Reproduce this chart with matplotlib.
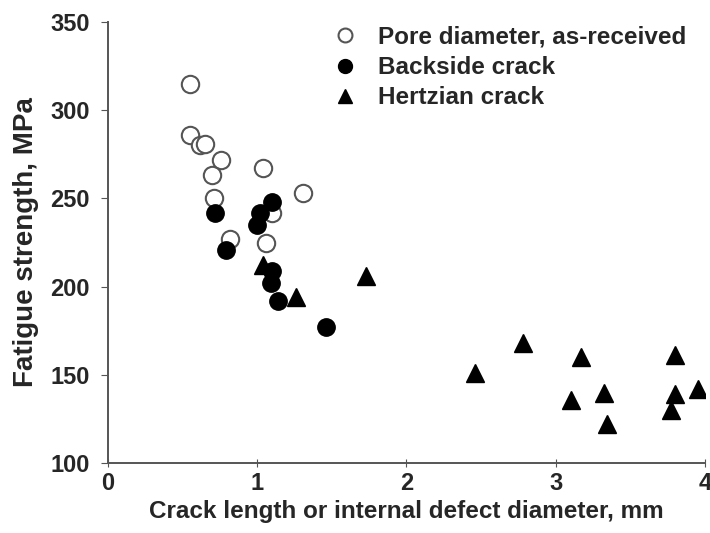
import matplotlib
matplotlib.use("Agg")
import matplotlib.pyplot as plt

plt.rcParams['font.family'] = ['Liberation Sans', 'DejaVu Sans']
plt.rcParams['font.weight'] = 'bold'
plt.rcParams['axes.labelweight'] = 'bold'

pore_x = [0.55, 0.55, 0.62, 0.65, 0.76, 0.70, 1.04, 0.71, 1.31, 1.10, 0.82, 1.06]
pore_y = [315, 286, 280, 281, 272, 263, 267, 250, 253, 242, 227, 225]

back_x = [0.72, 0.79, 1.10, 1.02, 1.00, 1.10, 1.09, 1.14, 1.46]
back_y = [242, 221, 248, 242, 235, 209, 202, 192, 177]

hertz_x = [1.04, 1.26, 1.73, 2.46, 2.78, 3.17, 3.10, 3.32, 3.34, 3.80, 3.80, 3.77, 3.95]
hertz_y = [212, 194, 206, 151, 168, 160, 136, 140, 122, 161, 139, 130, 142]

labels = ["Pore diameter, as-received", "Backside crack", "Hertzian crack"]
xticks = [0, 1, 2, 3, 4]
yticks = [100, 150, 200, 250, 300, 350]

fig = plt.figure(figsize=(7.1, 5.33), dpi=100)
ax = fig.add_axes([0.152, 0.131, 0.841, 0.828])

txt = '#262626'
ax.plot(pore_x, pore_y, 'o', ms=12.5, mfc='white', mec='#555555', mew=1.5,
        ls='none', label=labels[0], zorder=3)
ax.plot(back_x, back_y, 'o', ms=12.5, mfc='black', mec='black', mew=1,
        ls='none', label=labels[1], zorder=4)
ax.plot(hertz_x, hertz_y, '^', ms=12.5, mfc='black', mec='black', mew=1,
        ls='none', label=labels[2], zorder=4)

ax.set_xlim(0, 4)
ax.set_ylim(100, 350)
ax.set_xticks(xticks)
ax.set_yticks(yticks)
ax.spines['top'].set_visible(False)
ax.spines['right'].set_visible(False)
for s in ['left', 'bottom']:
    ax.spines[s].set_color('#555555')
    ax.spines[s].set_linewidth(1.4)
ax.tick_params(axis='y', direction='out', length=5, color='#555555', labelsize=17, labelcolor=txt, pad=8)
ax.tick_params(axis='x', direction='inout', length=6, color='#555555', labelsize=17, labelcolor=txt, pad=3)

ax.set_xlabel("Crack length or internal defect diameter, mm", fontsize=17.5, color=txt, labelpad=4)
ax.set_ylabel("Fatigue strength, MPa", fontsize=20, color=txt, labelpad=8)

leg = ax.legend(loc='upper left', bbox_to_anchor=(0.36, 1.013), frameon=False,
                fontsize=17.5, handletextpad=0.88, labelspacing=0.3, handlelength=1.0,
                borderaxespad=0, markerscale=0.8)
for t in leg.get_texts():
    t.set_color(txt)

fig.savefig("out.png", dpi=100)
